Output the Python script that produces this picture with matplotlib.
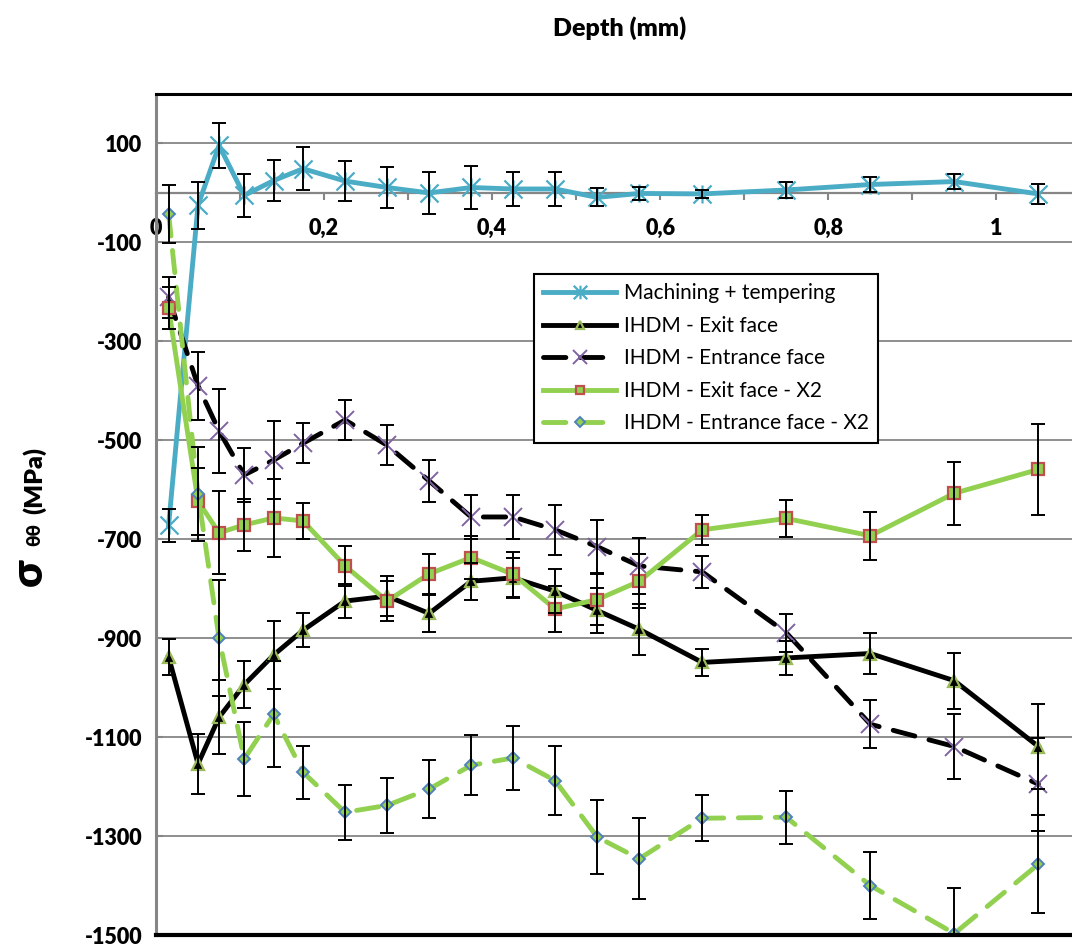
import matplotlib
matplotlib.use("Agg")
import matplotlib.pyplot as plt
from matplotlib.path import Path

plt.rcParams["font.family"] = ["Lato", "DejaVu Sans"]

# depth of each measurement (mm)
depth = [0.015, 0.05, 0.075, 0.105, 0.14, 0.175, 0.225, 0.275, 0.325, 0.375,
         0.425, 0.475, 0.525, 0.575, 0.65, 0.75, 0.85, 0.95, 1.05]

machining = [-672, -25, 96, -5, 25, 49, 24, 11, 0, 11, 8, 8, -9, -1, -2, 6, 17, 23, -2]
machining_err = [33, 47, 46, 43, 42, 43, 41, 42, 42, 43, 34, 35, 18, 13, 8, 16, 15, 16, 20]

exit_face = [-938, -1154, -1060, -994, -934, -884, -825, -815, -850, -785,
             -778, -805, -844, -882, -949, -940, -931, -986, -1119]
exit_err = [36, 61, 75, 48, 69, 34, 34, 41, 37, 37, 41, 45, 45, 51, 28, 34, 42, 57, 85]

entrance_face = [-211, -390, -481, -570, -540, -506, -459, -510, -582, -655,
                 -655, -681, -715, -754, -766, -889, -1074, -1119, -1195]
entrance_err = [42, 68, 85, 54, 79, 40, 40, 40, 42, 44, 45, 51, 53, 57, 33, 38, 49, 66, 94]

exit_x2 = [-233, -623, -687, -671, -657, -663, -754, -825, -770, -737,
           -771, -841, -822, -785, -681, -658, -693, -607, -559]
exit_x2_err = [42, 68, 84, 53, 78, 37, 40, 40, 40, 44, 46, 46, 52, 55, 31, 37, 48, 64, 91]

entrance_x2 = [-42, -608, -900, -1144, -1054, -1171, -1252, -1238, -1205, -1157,
               -1142, -1188, -1302, -1346, -1264, -1262, -1400, -1497, -1357]
entrance_x2_err = [59, 95, 117, 75, 107, 54, 55, 56, 59, 61, 65, 70, 75, 82, 46, 54, 68, 91, 99]

series_labels = ["Machining + tempering", "IHDM - Exit face", "IHDM - Entrance face",
                 "IHDM - Exit face - X2", "IHDM - Entrance face - X2"]

xticks = [0, 0.1, 0.2, 0.3, 0.4, 0.5, 0.6, 0.7, 0.8, 0.9, 1.0]
xtick_labels = ["0", "", "0,2", "", "0,4", "", "0,6", "", "0,8", "", "1"]
yticks = [100, -100, -300, -500, -700, -900, -1100, -1300, -1500]
ytick_labels = ["100", "-100", "-300", "-500", "-700", "-900", "-1100", "-1300", "-1500"]

W, H = 1072, 949
fig = plt.figure(figsize=(W / 100, H / 100), dpi=100)


def fx(px):
    return px / W


def fy(py):
    return 1 - py / H


ax = fig.add_axes([fx(156), fy(935), fx(W - 156), (935 - 94) / H])
ax.set_xlim(0, 1.09)
ax.set_ylim(-1500, 200)

CYAN = "#4BACC6"
GREEN = "#92D050"
PURPLE = "#8064A2"
RED = "#C0504D"
BLUE = "#4F81BD"
GRID = "#868686"

# excel style star: X plus vertical bar
star = Path([(-1, -1), (1, 1), (-1, 1), (1, -1), (0, -1), (0, 1)],
            [Path.MOVETO, Path.LINETO, Path.MOVETO, Path.LINETO, Path.MOVETO, Path.LINETO])

lw = 3.5
dash = (0, (4.6, 3.0))
ax.plot(depth, machining, color=CYAN, lw=lw, marker=star, ms=13, mec=CYAN, mew=1.6,
        label=series_labels[0], zorder=3)
ax.plot(depth, exit_face, color="black", lw=lw, marker="^", ms=8, mfc="black",
        mec="#9BBB59", mew=1.6, label=series_labels[1], zorder=3)
ax.plot(depth, entrance_face, color="black", lw=lw, ls=dash, dash_capstyle="round",
        marker="x", ms=13, mec=PURPLE, mew=1.4, label=series_labels[2], zorder=3)
ax.plot(depth, exit_x2, color=GREEN, lw=lw, marker="s", ms=8, mfc=GREEN, mec=RED, mew=1.6,
        label=series_labels[3], zorder=3)
ax.plot(depth, entrance_x2, color=GREEN, lw=lw, ls=dash, dash_capstyle="round",
        marker="D", ms=6.5, mfc=GREEN, mec=BLUE, mew=1.4, label=series_labels[4], zorder=3)

for vals, errs in [(machining, machining_err), (exit_face, exit_err), (entrance_face, entrance_err),
                   (exit_x2, exit_x2_err), (entrance_x2, entrance_x2_err)]:
    ax.errorbar(depth, vals, yerr=errs, fmt="none", ecolor="black", elinewidth=1.4,
                capsize=4.8, capthick=1.4, zorder=4)

# axes styling
for y in yticks[:-1]:
    ax.axhline(y, color=GRID, lw=1.3, zorder=1)
ax.spines["right"].set_visible(False)
ax.spines["top"].set_color("black")
ax.spines["top"].set_linewidth(2.2)
ax.spines["left"].set_color(GRID)
ax.spines["left"].set_linewidth(2.2)
ax.spines["bottom"].set_position(("data", 0))
ax.spines["bottom"].set_color(GRID)
ax.spines["bottom"].set_linewidth(1.6)
ax.axhline(-1500, color="black", lw=3, clip_on=False, zorder=5)

ax.set_xticks(xticks)
ax.set_xticklabels(xtick_labels, fontsize=15.5, fontweight="heavy")
ax.tick_params(axis="x", direction="out", length=5, width=1.5, color=GRID, pad=13)
ax.set_yticks(yticks)
ax.set_yticklabels(ytick_labels, fontsize=15.5, fontweight="heavy")
ax.tick_params(axis="y", direction="in", length=5, width=1.5, color=GRID, pad=10)

leg = ax.legend(loc="upper left", bbox_to_anchor=(fx(534), fy(274)), bbox_transform=fig.transFigure,
                fontsize=15, frameon=True, fancybox=False, framealpha=1, edgecolor="black",
                numpoints=1, markerscale=0.75, handlelength=3.5, handletextpad=0.35,
                labelspacing=0.6, borderpad=0.45, borderaxespad=0)
leg.get_frame().set_linewidth(1.5)

fig.text(fx(620), fy(28), "Depth (mm)", fontsize=18, fontweight="heavy", ha="center", va="center")

# y label: big sigma followed by smaller text
fig.text(fx(42), fy(586), "σ", fontsize=31, fontweight="heavy", rotation=90,
         rotation_mode="anchor", ha="left", va="baseline")
fig.text(fx(40), fy(546), "θθ", fontsize=13.5, fontweight="heavy", rotation=90,
         rotation_mode="anchor", ha="left", va="baseline")
fig.text(fx(42), fy(514), "(MPa)", fontsize=18, fontweight="heavy", rotation=90,
         rotation_mode="anchor", ha="left", va="baseline")

fig.savefig("out.png", dpi=100)
